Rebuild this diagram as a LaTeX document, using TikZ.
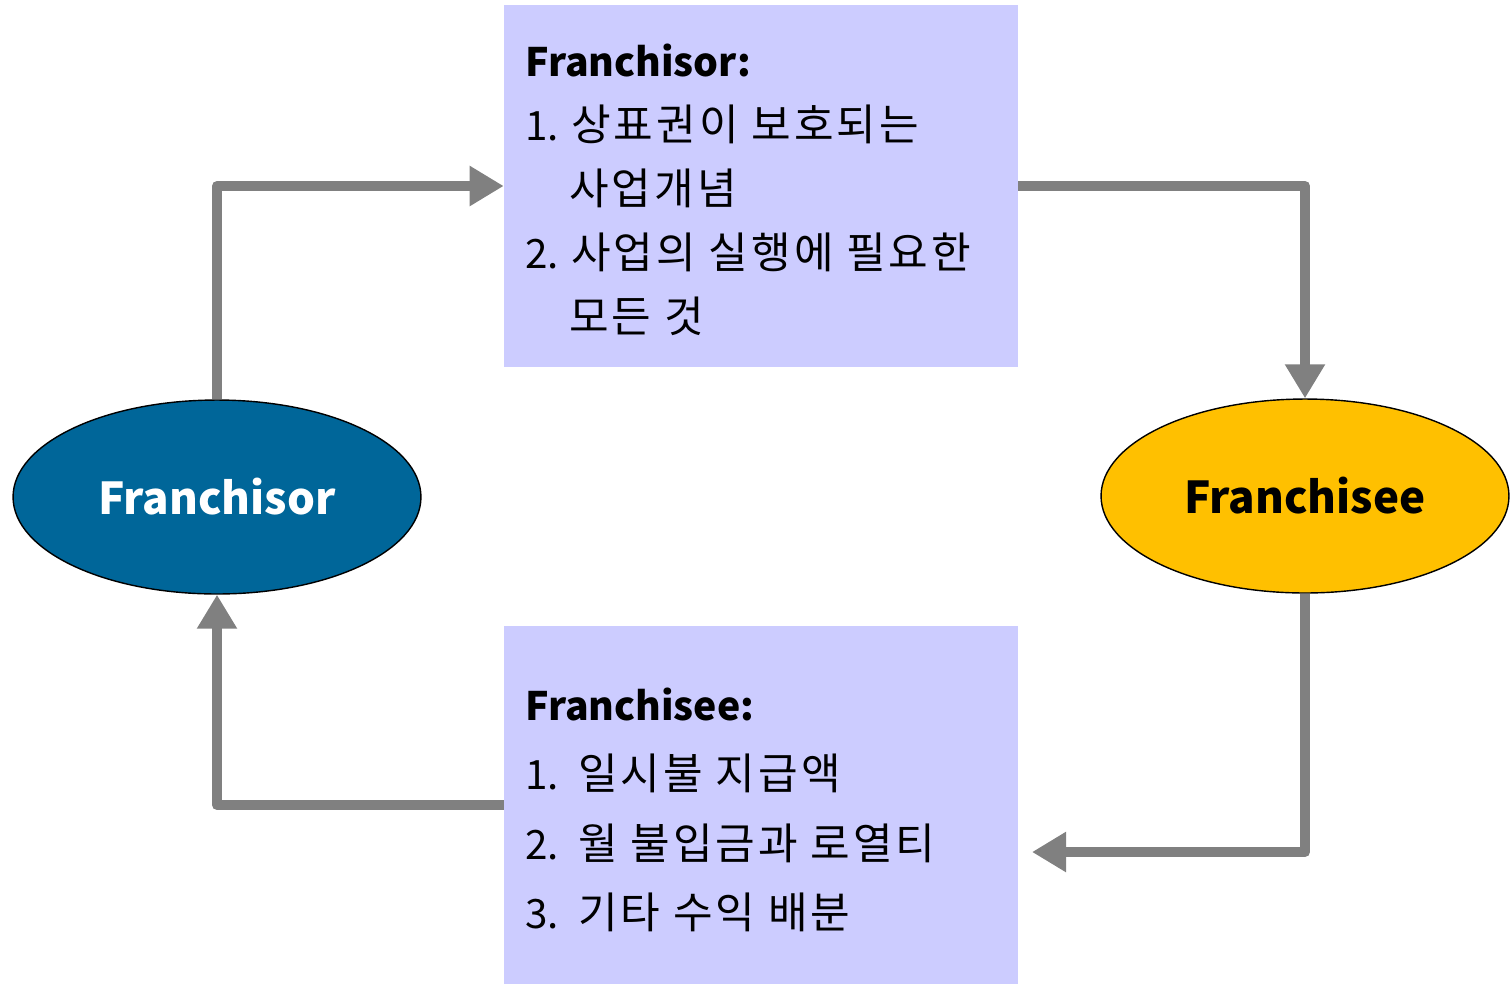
\documentclass[tikz,border=0pt]{standalone}
\usepackage{fontspec}
\setmainfont{Noto Sans CJK KR}
\newfontfamily\krfont[LetterSpace=7]{Noto Sans CJK KR}
\usetikzlibrary{shapes.geometric,arrows.meta}
\definecolor{boxfill}{HTML}{CCCCFF}
\definecolor{frblue}{HTML}{006699}
\definecolor{feyellow}{HTML}{FFC000}
\definecolor{arrgray}{HTML}{808080}
\tikzset{
  infobox/.style={draw=none,fill=boxfill,rectangle,inner sep=0pt,minimum width=10.28cm,minimum height=7.24cm},
  party/.style={ellipse,draw=black,line width=0.8pt,inner sep=0pt,minimum width=8.16cm,minimum height=3.88cm,font=\fontsize{25}{30}\selectfont\bfseries},
  flow/.style={draw=arrgray,line width=0.2cm,line join=round,-{Triangle[length=0.68cm,width=0.76cm]}},
  txt/.style={anchor=base west,inner sep=0pt,font=\fontsize{23}{28}\selectfont},
  krtxt/.style={anchor=base west,inner sep=0pt,font=\fontsize{24.5}{28}\selectfont\krfont},
  hdr/.style={txt,font=\fontsize{22.3}{28}\selectfont\bfseries},
}
\begin{document}
\begin{tikzpicture}[x=0.02cm,y=-0.02cm]
\useasboundingbox (0,0) rectangle (1511,985);
\node[infobox] (top) at (761,186) {};
\node[infobox,minimum height=7.16cm] (bot) at (761,805) {};
\node[party,fill=frblue,text=white] (fr) at (217,497) {Franchisor};
\node[party,fill=feyellow,text=black] (fe) at (1305,496) {Franchisee};
% top box text
\node[hdr] (h1) at (525,76) {Franchisor:};
\node[txt] (a1) at (525,140) {1.};
\node[krtxt] (a1t) at (571,140) {상표권이 보호되는};
\node[krtxt] (a2t) at (569,204) {사업개념};
\node[txt] (a3) at (525,268) {2.};
\node[krtxt] (a3t) at (571,268) {사업의 실행에 필요한};
\node[krtxt] (a4t) at (569,332) {모든 것};
% bottom box text
\node[hdr] (h2) at (525,720) {Franchisee:};
\node[txt] (b1) at (525,789) {1.};
\node[krtxt] (b1t) at (578,789) {일시불 지급액};
\node[txt] (b2) at (525,859) {2.};
\node[krtxt] (b2t) at (578,859) {월 불입금과 로열티};
\node[txt] (b3) at (525,928) {3.};
\node[krtxt] (b3t) at (578,928) {기타 수익 배분};
% connectors
\coordinate (c3) at (1032,852);
\draw[flow] (fr.north) |- (top.west);
\draw[flow] (top.east) -| (fe.north);
\draw[flow] (fe.south) |- (c3);
\draw[flow] (bot.west) -| (fr.south);
\end{tikzpicture}
\end{document}
